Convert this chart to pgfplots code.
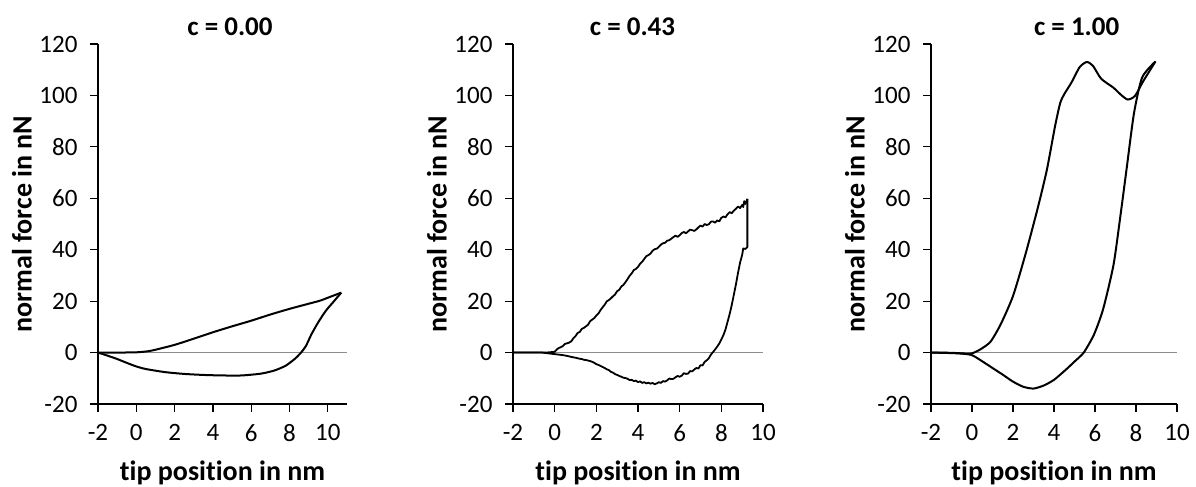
\documentclass[border=0pt]{standalone}
\usepackage{fontspec}
\setmainfont{Carlito}[Ligatures=CommonOff]
\usepackage{pgfplots}
\pgfplotsset{compat=1.18}
\newcommand{\lblfont}{\bfseries\fontsize{28bp}{32bp}\selectfont}
\newcommand{\ttlfont}{\bfseries\fontsize{27bp}{31bp}\selectfont}
\pgfplotsset{
  panel/.style={
    scale only axis,
    height=360bp,
    ymin=-20, ymax=120,
    ytick={-20,0,20,40,60,80,100,120},
    xtick={-2,0,2,4,6,8,10},
    axis x line=bottom, axis y line=left,
    axis line style={-, black, line width=1.5bp},
    tick style={black, line width=1.2bp},
    tick align=outside,
    major tick length=8bp,
    /pgf/number format/assume math mode=true,
    ticklabel style={font=\fontsize{25bp}{28bp}\selectfont},
    yticklabel style={xshift=-9bp},
    xticklabel style={yshift=-9bp},
    xlabel={tip position in nm},
    ylabel={normal force in nN},
    every axis x label/.style={at={([yshift=-69bp]rel axis cs:0.5,0)}, anchor=center, font=\lblfont},
    every axis y label/.style={at={([xshift=-76bp]rel axis cs:0,0.5)}, anchor=center, rotate=90, font=\lblfont},
    clip=false,
  },
  curve/.style={black, line width=2bp, line join=round, no marks},
  zeroline/.style={draw=black!45, line width=1bp, no marks},
}
\begin{document}
\begin{tikzpicture}
\useasboundingbox (0,0) rectangle (1196bp,487bp);

% ---------- c = 0.00 ----------
\begin{axis}[panel, at={(98bp,83bp)}, anchor=south west, width=249bp,
  xmin=-2, xmax=11,
  title={c = 0.00},
  every axis title/.style={at={([xshift=7.5bp,yshift=17.5bp]rel axis cs:0.5,1)}, anchor=center, font=\ttlfont}]
\addplot[zeroline] coordinates {(-2,0) (11,0)};
\addplot[curve, smooth, tension=0.4] coordinates {
(-2,0) (-1,0) (0,0.1) (0.6,0.5) (1,1.1) (2,3) (3,5.4) (4,7.9) (5,10.2) (6,12.4)
(7,14.8) (8,17.0) (9,19.0) (9.6,20.2) (10.2,21.9) (10.7,23.3)};
\addplot[curve, smooth, tension=0.4] coordinates {
(10.7,23.3) (10.3,19.8) (9.9,16.3) (9.5,11.8) (9.15,7.2) (8.85,2.5) (8.6,0)
(8.3,-2.3) (7.8,-5.1) (7.2,-7.0) (6.5,-8.2) (5.5,-8.9) (4.5,-8.9) (3.5,-8.7)
(2.5,-8.3) (1.5,-7.6) (0.5,-6.4) (0,-5.4) (-0.5,-4.0) (-1,-2.5) (-1.5,-1.2) (-2,0)};
\end{axis}

% ---------- c = 0.43 ----------
\begin{axis}[panel, at={(513bp,83bp)}, anchor=south west, width=250bp,
  xmin=-2, xmax=10,
  title={c = 0.43},
  every axis title/.style={at={([xshift=-5.5bp,yshift=17.5bp]rel axis cs:0.5,1)}, anchor=center, font=\ttlfont}]
\addplot[zeroline] coordinates {(-2,0) (10,0)};
\addplot[curve, line width=1.8bp] coordinates {
(-2,0) (-1,0) (-0.4,0) (0.0,0.3) (0.1,1.2) (0.2,1.8) (0.3,2.1) (0.4,2.6) (0.5,3.4)
(0.6,3.6) (0.7,3.9) (0.8,4.4) (0.9,5.6) (1.0,6.4) (1.1,7.6) (1.2,8.0) (1.3,9.2)
(1.4,9.6) (1.5,10.2) (1.6,10.8) (1.7,12.2) (1.8,12.8) (1.9,13.4) (2.0,14.4) (2.1,15.2)
(2.2,16.5) (2.3,17.6) (2.4,18.6) (2.5,19.9) (2.6,20.4) (2.7,21.1) (2.8,21.9) (2.9,22.6)
(3.0,23.9) (3.1,24.4) (3.2,25.7) (3.3,26.3) (3.4,27.4) (3.5,28.6) (3.6,29.9) (3.7,30.8)
(3.8,32.1) (3.9,32.5) (4.0,33.3) (4.1,34.5) (4.2,35.3) (4.3,36.4) (4.4,37.5) (4.5,37.9)
(4.6,38.5) (4.7,39.6) (4.8,40.2) (4.9,40.4) (5.0,41.1) (5.1,42.0) (5.2,42.5) (5.3,42.7)
(5.4,43.5) (5.5,43.7) (5.6,44.3) (5.7,44.9) (5.8,45.5) (5.9,45.0) (6.0,45.6) (6.1,46.5)
(6.2,46.9) (6.3,46.4) (6.4,47.1) (6.5,47.8) (6.6,47.6) (6.7,47.3) (6.8,47.9) (6.9,48.7)
(7.0,49.4) (7.1,49.0) (7.2,50.0) (7.3,49.6) (7.4,49.9) (7.5,50.9) (7.6,51.0) (7.7,50.5)
(7.8,51.4) (7.9,51.0) (8.0,52.4) (8.1,52.9) (8.2,52.6) (8.3,53.8) (8.4,54.6) (8.5,54.2)
(8.6,55.2) (8.7,55.9) (8.8,56.8) (8.9,56.2) (9.0,57.4) (9.05,56.6) (9.1,58.9) (9.15,57.8)
(9.2,58.6) (9.25,59.8)};
\addplot[curve, line width=1.8bp] coordinates {
(9.25,59.8) (9.25,52) (9.25,41) (9.15,40.3) (9.05,40.5) (9.0,38.0) (8.9,35.0) (8.8,31.0)
(8.7,26.5) (8.6,22.5) (8.5,18.5) (8.4,15.0) (8.3,12.0) (8.2,9.0) (8.1,6.8) (8.0,5.1)
(7.9,3.5) (7.8,2.3) (7.7,1.2) (7.6,0.2) (7.5,-0.8) (7.4,-2.2) (7.3,-3.0) (7.2,-3.6)
(7.1,-5.0) (7.0,-4.9) (6.9,-6.2) (6.8,-6.0) (6.7,-6.6) (6.6,-7.3) (6.5,-7.2) (6.4,-8.2)
(6.3,-8.3) (6.2,-8.0) (6.1,-9.0) (6.0,-9.4) (5.9,-9.1) (5.8,-9.6) (5.7,-10.2) (5.6,-10.3)
(5.5,-10.1) (5.4,-10.8) (5.3,-11.3) (5.2,-11.1) (5.1,-11.8) (5.0,-11.5) (4.9,-12.0)
(4.8,-12.3) (4.7,-11.8) (4.6,-12.1) (4.5,-11.7) (4.4,-12.0) (4.3,-11.5) (4.2,-11.8)
(4.1,-11.2) (4.0,-11.5) (3.9,-10.9) (3.8,-11.1) (3.7,-10.6) (3.6,-10.7) (3.5,-10.2)
(3.4,-9.9) (3.3,-9.8) (3.2,-9.4) (3.1,-9.1) (3.0,-8.7) (2.9,-8.4) (2.8,-7.8) (2.7,-7.5)
(2.6,-6.8) (2.5,-6.5) (2.4,-6.0) (2.3,-5.6) (2.2,-5.2) (2.1,-4.8) (2.0,-4.5) (1.9,-4.0)
(1.8,-3.6) (1.7,-3.3) (1.6,-3.1) (1.5,-2.9) (1.4,-2.8) (1.3,-2.5) (1.2,-2.4) (1.0,-2.0)
(0.8,-1.7) (0.6,-1.3) (0.4,-1.0) (0.2,-0.8) (0.0,-0.6) (-0.3,-0.3) (-0.6,0) (-2,0)};
\end{axis}

% ---------- c = 1.00 ----------
\begin{axis}[panel, at={(931bp,83bp)}, anchor=south west, width=246bp,
  xmin=-2, xmax=10,
  title={c = 1.00},
  every axis title/.style={at={([xshift=22.7bp,yshift=17.5bp]rel axis cs:0.5,1)}, anchor=center, font=\ttlfont}]
\addplot[zeroline] coordinates {(-2,0) (10,0)};
\addplot[curve, smooth, tension=0.4] coordinates {
(-2,0) (-1,-0.1) (-0.3,-0.4) (0,-0.3) (0.4,1.2) (0.9,4.2) (1.4,11) (2.0,22) (2.6,38)
(3.2,56) (3.65,71) (4.05,88) (4.3,97) (4.5,100.5) (4.85,105) (5.25,111) (5.6,113)
(5.9,111.5) (6.3,106.5) (6.9,103) (7.3,100) (7.6,98.4) (7.95,99.8) (8.35,105.5) (8.95,113.2)};
\addplot[curve, smooth, tension=0.4] coordinates {
(8.95,113.2) (8.3,107) (7.9,93) (7.55,72) (7.22,52) (6.9,34) (6.4,17) (5.95,7) (5.45,0)
(5.0,-3.5) (4.6,-6.5) (4.0,-10.6) (3.5,-12.8) (3.0,-14) (2.5,-13.3) (2.0,-11.3)
(1.5,-8.6) (1.0,-6) (0.5,-3.4) (0,-1.0) (-0.5,-0.4) (-1,-0.2) (-2,0)};
\end{axis}
\end{tikzpicture}
\end{document}
